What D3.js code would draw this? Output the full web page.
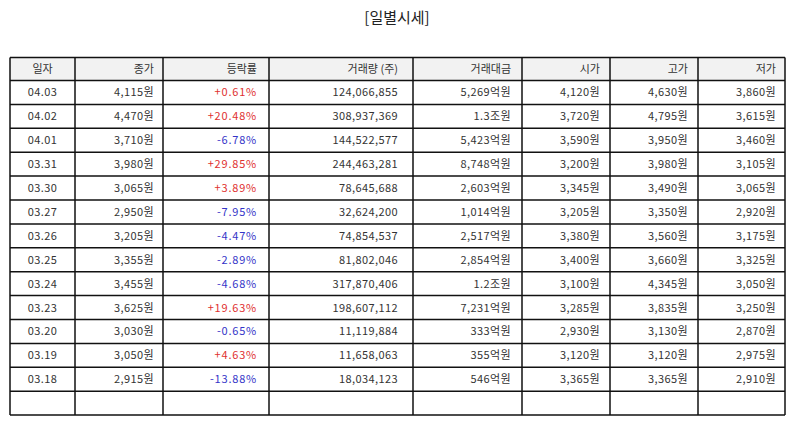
<!DOCTYPE html>
<html>
<head>
<meta charset="utf-8">
<script src="https://cdn.jsdelivr.net/npm/d3@7"></script>
<style>
  body { margin: 0; background: #fff; }
  text { font-family: "Noto Sans CJK KR", "Noto Sans", sans-serif; }
</style>
</head>
<body>
<script>
// table data
const headers = ["일자", "종가", "등락률", "거래량 (주)", "거래대금", "시가", "고가", "저가"];
const dates = ["04.03", "04.02", "04.01", "03.31", "03.30", "03.27", "03.26", "03.25", "03.24", "03.23", "03.20", "03.19", "03.18"];
const closes = ["4,115원", "4,470원", "3,710원", "3,980원", "3,065원", "2,950원", "3,205원", "3,355원", "3,455원", "3,625원", "3,030원", "3,050원", "2,915원"];
const changes = ["+0.61%", "+20.48%", "-6.78%", "+29.85%", "+3.89%", "-7.95%", "-4.47%", "-2.89%", "-4.68%", "+19.63%", "-0.65%", "+4.63%", "-13.88%"];
const volumes = ["124,066,855", "308,937,369", "144,522,577", "244,463,281", "78,645,688", "32,624,200", "74,854,537", "81,802,046", "317,870,406", "198,607,112", "11,119,884", "11,658,063", "18,034,123"];
const amounts = ["5,269억원", "1.3조원", "5,423억원", "8,748억원", "2,603억원", "1,014억원", "2,517억원", "2,854억원", "1.2조원", "7,231억원", "333억원", "355억원", "546억원"];
const opens = ["4,120원", "3,720원", "3,590원", "3,200원", "3,345원", "3,205원", "3,380원", "3,400원", "3,100원", "3,285원", "2,930원", "3,120원", "3,365원"];
const highs = ["4,630원", "4,795원", "3,950원", "3,980원", "3,490원", "3,350원", "3,560원", "3,660원", "4,345원", "3,835원", "3,130원", "3,120원", "3,365원"];
const lows = ["3,860원", "3,615원", "3,460원", "3,105원", "3,065원", "2,920원", "3,175원", "3,325원", "3,050원", "3,250원", "2,870원", "2,975원", "2,910원"];

const W = 794, H = 425;
// column edges in px
const colEdges = [10, 75, 163, 269, 413, 522, 610, 698, 785];
const colPad = [0, 9, 12, 15, 11, 10, 10, 9];
const tableTop = 57.5, headH = 23, rowH = 23.9;

const rows = dates.map((d, i) => [d, closes[i], changes[i], volumes[i], amounts[i], opens[i], highs[i], lows[i]]);
rows.push(["", "", "", "", "", "", "", ""]); // empty last row

const svg = d3.select("body").append("svg")
  .attr("width", W)
  .attr("height", H);

svg.append("text")
  .attr("x", W / 2)
  .attr("y", 23)
  .attr("text-anchor", "middle")
  .attr("font-size", 15)
  .attr("fill", "#222")
  .text("[일별시세]");

const rowY = (i) => tableTop + headH + i * rowH;
const bottom = rowY(rows.length);

// header background
svg.append("rect")
  .attr("x", colEdges[0]).attr("y", tableTop)
  .attr("width", colEdges[8] - colEdges[0]).attr("height", headH)
  .attr("fill", "#f2f2f2");

const textX = (c) => c === 0 ? (colEdges[0] + colEdges[1]) / 2 : colEdges[c + 1] - colPad[c];
const anchor = (c) => c === 0 ? "middle" : "end";

svg.selectAll("text.head")
  .data(headers)
  .enter()
  .append("text")
  .attr("class", "head")
  .attr("x", (d, c) => textX(c))
  .attr("y", tableTop + headH / 2 + 4)
  .attr("text-anchor", (d, c) => anchor(c))
  .attr("font-size", 11)
  .attr("fill", "#333")
  .text((d) => d);

const rowG = svg.selectAll("g.row")
  .data(rows)
  .enter()
  .append("g")
  .attr("class", "row")
  .attr("transform", (d, i) => `translate(0,${rowY(i)})`);

rowG.selectAll("text")
  .data((d) => d)
  .enter()
  .append("text")
  .attr("x", (d, c) => textX(c))
  .attr("y", rowH / 2 + 4)
  .attr("text-anchor", (d, c) => anchor(c))
  .attr("font-size", 11)
  .attr("letter-spacing", (d, c) => c === 2 ? 0.8 : 0.4)
  .attr("fill", (d, c) => {
    if (c !== 2) return "#333";
    return d.startsWith("+") ? "#e03030" : "#3434c8";
  })
  .text((d) => d);

// grid lines
const hLines = [tableTop, tableTop + headH].concat(rows.map((d, i) => rowY(i + 1)));
svg.selectAll("line.h")
  .data(hLines)
  .enter()
  .append("line")
  .attr("x1", colEdges[0]).attr("x2", colEdges[8])
  .attr("y1", (d) => d).attr("y2", (d) => d)
  .attr("stroke", "#111").attr("stroke-width", 1.5);

svg.selectAll("line.v")
  .data(colEdges)
  .enter()
  .append("line")
  .attr("x1", (d) => d).attr("x2", (d) => d)
  .attr("y1", tableTop).attr("y2", bottom)
  .attr("stroke", "#111").attr("stroke-width", 1.5);
</script>
</body>
</html>
